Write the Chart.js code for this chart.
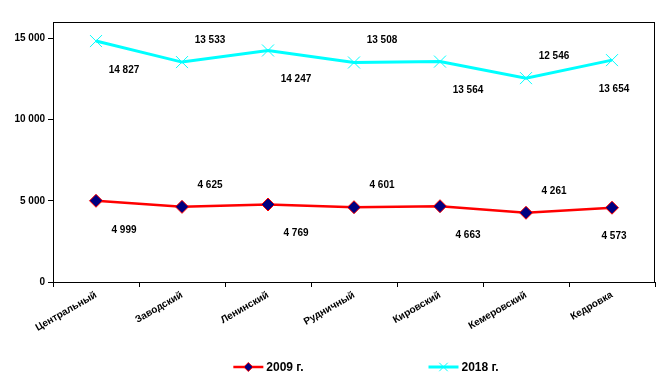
<!DOCTYPE html>
<html>
<head>
<meta charset="utf-8">
<script src="https://cdn.jsdelivr.net/npm/chart.js@4.4.1/dist/chart.umd.min.js"></script>
<style>
  html, body { margin: 0; padding: 0; background: #fff; }
  #wrap { width: 671px; height: 388px; }
</style>
</head>
<body>
<div id="wrap"><canvas id="chart"></canvas></div>
<script>
const districts = ['Центральный', 'Заводский', 'Ленинский', 'Рудничный', 'Кировский', 'Кемеровский', 'Кедровка'];
const values2009 = [4999, 4625, 4769, 4601, 4663, 4261, 4573];
const values2018 = [14827, 13533, 14247, 13508, 13564, 12546, 13654];
const yTicks = [0, 5000, 10000, 15000];

const FONT = '"Liberation Sans", Arial, sans-serif';

function fmt(v) {
  return String(v).replace(/\B(?=(\d{3})+(?!\d))/g, ' ');
}

// frame round the plot area (Excel style)
const plotFrame = {
  id: 'plotFrame',
  beforeDatasetsDraw(chart) {
    const a = chart.chartArea, ctx = chart.ctx;
    ctx.save();
    ctx.strokeStyle = '#000';
    ctx.lineWidth = 1;
    ctx.strokeRect(Math.round(a.left) + 0.5, Math.round(a.top) + 0.5,
      Math.round(a.right - a.left) - 1, Math.round(a.bottom - a.top));
    ctx.restore();
  }
};

// value labels, alternating below / above the point
const pointLabels = {
  id: 'pointLabels',
  afterDatasetsDraw(chart) {
    const ctx = chart.ctx;
    ctx.save();
    ctx.font = 'bold 10px ' + FONT;
    ctx.fillStyle = '#000';
    ctx.textAlign = 'center';
    ctx.textBaseline = 'middle';
    chart.data.datasets.forEach((ds, di) => {
      chart.getDatasetMeta(di).data.forEach((pt, i) => {
        const last = i === ds.data.length - 1;
        const dx = last ? 2 : 28;
        const dy = i % 2 === 0 ? 29 : -22;
        ctx.fillText(fmt(ds.data[i]), pt.x + dx, pt.y + dy);
      });
    });
    ctx.restore();
  }
};

// legend: line + marker + text, centred under the chart
const lineLegend = {
  id: 'lineLegend',
  afterDraw(chart) {
    const ctx = chart.ctx;
    const y = 367, gap = 125, lineW = 30;
    ctx.save();
    ctx.font = 'bold 12px ' + FONT;
    ctx.textBaseline = 'middle';
    const items = chart.data.datasets.map(ds => ({ds: ds, w: lineW + 3 + ctx.measureText(ds.label).width}));
    const total = items.reduce((s, it) => s + it.w, 0) + gap * (items.length - 1);
    let x = 366 - total / 2;
    items.forEach(it => {
      const ds = it.ds;
      ctx.strokeStyle = ds.borderColor;
      ctx.lineWidth = ds.borderWidth;
      ctx.beginPath();
      ctx.moveTo(x, y);
      ctx.lineTo(x + lineW, y);
      ctx.stroke();
      ctx.fillStyle = ds.pointBackgroundColor;
      ctx.strokeStyle = ds.pointBorderColor;
      ctx.lineWidth = ds.pointBorderWidth;
      Chart.helpers.drawPoint(ctx, {pointStyle: ds.pointStyle, radius: ds.legendRadius, rotation: 0, borderWidth: ds.pointBorderWidth}, x + lineW / 2, y);
      ctx.fillStyle = '#000';
      ctx.fillText(ds.label, x + lineW + 3, y + 1);
      x += it.w + gap;
    });
    ctx.restore();
  }
};

new Chart(document.getElementById('chart'), {
  type: 'line',
  data: {
    labels: districts,
    datasets: [
      {
        label: '2009 г.',
        data: values2009,
        borderColor: '#ff0000',
        borderWidth: 2.5,
        pointStyle: 'rectRot',
        pointRadius: 6.5,
        pointHoverRadius: 6.5,
        pointBackgroundColor: '#000080',
        pointBorderColor: '#ff0000',
        pointBorderWidth: 1,
        legendRadius: 4.5,
        tension: 0
      },
      {
        label: '2018 г.',
        data: values2018,
        borderColor: '#00ffff',
        borderWidth: 3,
        pointStyle: 'crossRot',
        pointRadius: 8.5,
        pointHoverRadius: 8.5,
        pointBackgroundColor: '#00ffff',
        pointBorderColor: '#00ffff',
        pointBorderWidth: 1,
        legendRadius: 6,
        tension: 0
      }
    ]
  },
  options: {
    responsive: true,
    maintainAspectRatio: false,
    animation: false,
    devicePixelRatio: 1,
    layout: {padding: {top: 22, right: 16, left: 0, bottom: 56}},
    plugins: {legend: {display: false}, tooltip: {enabled: false}},
    scales: {
      x: {
        offset: true,
        grid: {display: true, drawOnChartArea: false, tickLength: 5, color: '#000', offset: true},
        border: {display: true, color: '#000', width: 1},
        ticks: {
          autoSkip: false,
          minRotation: 30,
          maxRotation: 30,
          color: '#000',
          padding: 2,
          font: {family: FONT, size: 10, weight: 'bold'}
        },
        afterFit: s => { s.height = 50; }
      },
      y: {
        min: 0,
        max: 16000,
        grid: {display: true, drawOnChartArea: false, tickLength: 5, color: '#000'},
        border: {display: true, color: '#000', width: 1},
        ticks: {
          color: '#000',
          padding: 3,
          font: {family: FONT, size: 10, weight: 'bold'},
          callback: v => fmt(v)
        },
        afterBuildTicks: s => { s.ticks = yTicks.map(v => ({value: v})); },
        afterFit: s => { s.width = 53; }
      }
    }
  },
  plugins: [plotFrame, pointLabels, lineLegend]
});
</script>
</body>
</html>
